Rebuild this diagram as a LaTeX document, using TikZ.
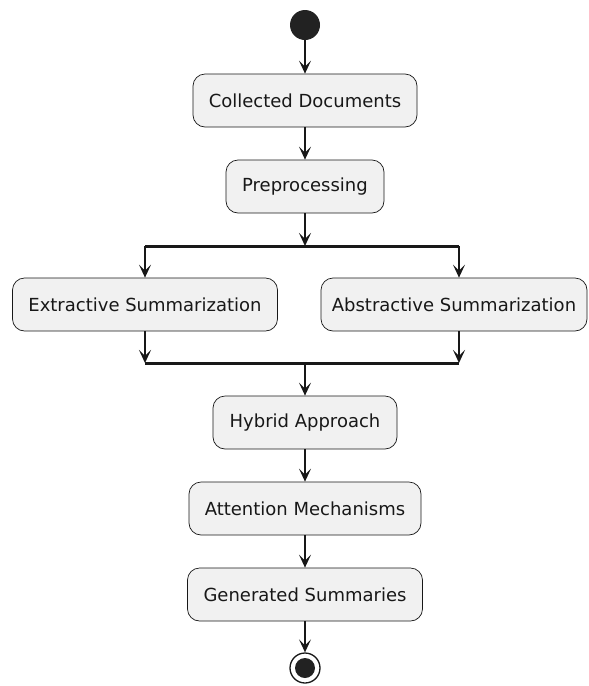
\documentclass[tikz,border=0pt]{standalone}
\usepackage{fontspec}
\setmainfont{DejaVu Sans}
\usetikzlibrary{arrows.meta}
\definecolor{boxfill}{HTML}{F1F1F1}
\definecolor{ink}{HTML}{181818}
\definecolor{dot}{HTML}{222222}
\tikzset{
  act/.style={draw=ink, fill=boxfill, rounded corners=12pt, line width=0.7pt,
    minimum height=53pt, inner sep=0pt, font=\fontsize{18}{21}\selectfont, text=ink},
  flow/.style={draw=ink, line width=1.6pt, -{Stealth[length=13pt, width=12pt, inset=6pt]}},
  bar/.style={draw=ink, line width=3pt},
}
\begin{document}
\begin{tikzpicture}[x=1pt, y=-1pt]
\useasboundingbox (0,0) rectangle (589,686);
\node[circle, fill=dot, minimum size=30pt, inner sep=0pt] (start) at (305,25) {};
\node[act, minimum width=224pt] (coll) at (305,100.5) {Collected Documents};
\node[act, minimum width=158pt] (prep) at (305,186.5) {Preprocessing};
\coordinate (f1l) at (145,246);
\coordinate (f1r) at (459,246);
\coordinate (f1m) at (305,246);
\node[act, minimum width=265pt] (extr) at (145,304.5) {Extractive Summarization};
\node[act, minimum width=266pt] (abst) at (454,304.5) {Abstractive Summarization};
\coordinate (j1l) at (145,363);
\coordinate (j1r) at (459,363);
\coordinate (j1m) at (305,363);
\node[act, minimum width=184pt] (hyb) at (305,422.5) {Hybrid Approach};
\node[act, minimum width=232pt] (att) at (305,508.5) {Attention Mechanisms};
\node[act, minimum width=235pt] (gen) at (305,594.5) {Generated Summaries};
\node[circle, draw=ink, line width=1.3pt, fill=white, minimum size=30pt, inner sep=0pt] (stop) at (305,668) {};
\node[circle, fill=dot, minimum size=20pt, inner sep=0pt] at (stop) {};

\draw[flow] (start) -- (coll);
\draw[flow] (coll) -- (prep);
\draw[flow] (prep.south) -- (f1m);
\draw[bar] (f1l) -- (f1r);
\draw[flow] (f1l) -- (extr.north);
\draw[flow] (f1r) -- (f1r |- abst.north);
\draw[flow] (extr.south) -- (j1l);
\draw[flow] (abst.south -| j1r) -- (j1r);
\draw[bar] (j1l) -- (j1r);
\draw[flow] (j1m) -- (hyb.north);
\draw[flow] (hyb) -- (att);
\draw[flow] (att) -- (gen);
\draw[flow] (gen) -- (stop);
\end{tikzpicture}
\end{document}
